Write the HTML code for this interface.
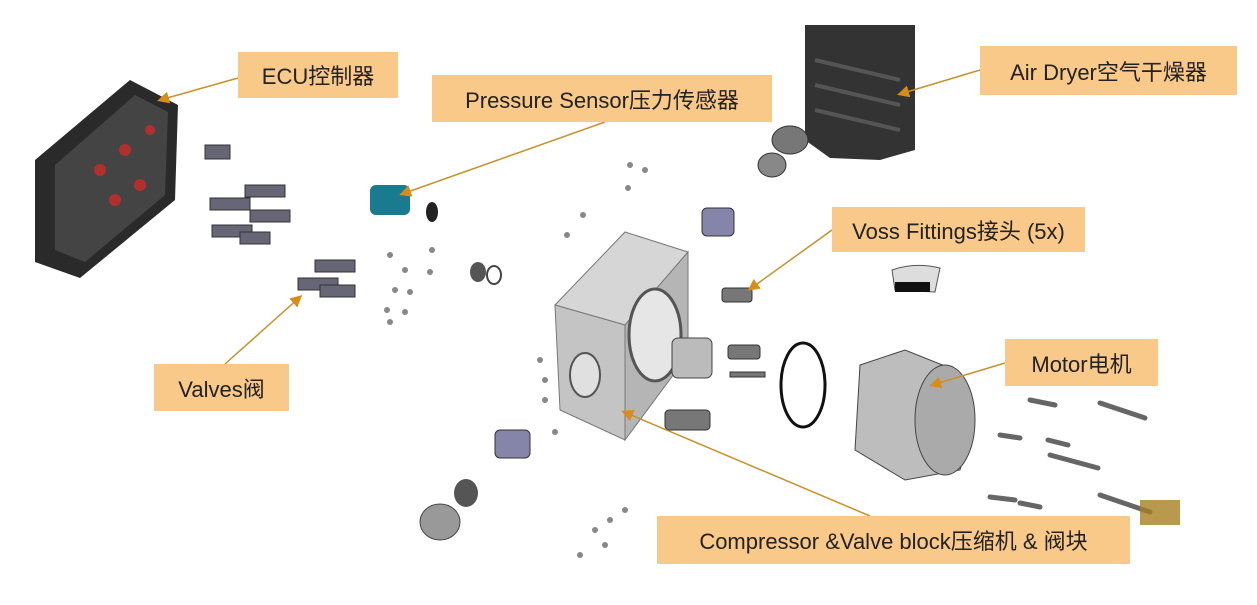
<!DOCTYPE html>
<html><head><meta charset="utf-8"><style>
html,body{margin:0;padding:0;background:#fff;}
body{width:1257px;height:605px;position:relative;overflow:hidden;font-family:"Liberation Sans","Noto Sans CJK SC",sans-serif;}
.lb{position:absolute;background:#F9C98A;color:#222;font-size:22px;display:flex;align-items:center;justify-content:center;white-space:nowrap;}
svg{position:absolute;left:0;top:0;}
</style></head><body>
<svg width="1257" height="605" viewBox="0 0 1257 605">
<defs><marker id="a" markerWidth="8" markerHeight="8" refX="6" refY="4" orient="auto"><path d="M0,0 L8,4 L0,8 z" fill="#D98C1C"/></marker></defs>
<!-- ECU -->
<polygon points="35,160 130,80 178,105 175,200 80,278 35,262" fill="#2a2a2a"/>
<polygon points="55,165 135,95 168,112 165,195 85,262 55,250" fill="#444"/>
<g fill="#b03030"><circle cx="100" cy="170" r="6"/><circle cx="125" cy="150" r="6"/><circle cx="140" cy="185" r="6"/><circle cx="115" cy="200" r="6"/><circle cx="150" cy="130" r="5"/></g>
<!-- valves -->
<g fill="#667" stroke="#333"><rect x="205" y="145" width="25" height="14"/><rect x="245" y="185" width="40" height="12"/><rect x="210" y="198" width="40" height="12"/><rect x="250" y="210" width="40" height="12"/><rect x="212" y="225" width="40" height="12"/><rect x="240" y="232" width="30" height="12"/><rect x="315" y="260" width="40" height="12"/><rect x="298" y="278" width="40" height="12"/><rect x="320" y="285" width="35" height="12"/></g>
<!-- pressure sensor -->
<rect x="370" y="185" width="40" height="30" rx="6" fill="#1a7a90"/>
<ellipse cx="432" cy="212" rx="6" ry="10" fill="#222"/>
<g fill="#888"><circle cx="390" cy="255" r="3"/><circle cx="405" cy="270" r="3"/><circle cx="432" cy="250" r="3"/><circle cx="430" cy="272" r="3"/><circle cx="395" cy="290" r="3"/><circle cx="410" cy="292" r="3"/><circle cx="387" cy="310" r="3"/><circle cx="405" cy="312" r="3"/><circle cx="390" cy="322" r="3"/><circle cx="630" cy="165" r="3"/><circle cx="645" cy="170" r="3"/><circle cx="628" cy="188" r="3"/><circle cx="583" cy="215" r="3"/><circle cx="567" cy="235" r="3"/><circle cx="540" cy="360" r="3"/><circle cx="545" cy="380" r="3"/><circle cx="545" cy="400" r="3"/><circle cx="555" cy="432" r="3"/><circle cx="625" cy="510" r="3"/><circle cx="610" cy="520" r="3"/><circle cx="595" cy="530" r="3"/><circle cx="580" cy="555" r="3"/><circle cx="605" cy="545" r="3"/></g>
<ellipse cx="478" cy="272" rx="8" ry="10" fill="#555"/><ellipse cx="494" cy="275" rx="7" ry="9" fill="none" stroke="#444" stroke-width="2"/>
<!-- block -->
<polygon points="555,305 625,232 688,252 625,325" fill="#d6d6d6" stroke="#777"/>
<polygon points="555,305 625,325 625,440 560,410" fill="#c4c4c4" stroke="#777"/>
<polygon points="625,325 688,252 688,355 625,440" fill="#b5b5b5" stroke="#777"/>
<ellipse cx="655" cy="335" rx="26" ry="46" fill="#e6e6e6" stroke="#555" stroke-width="3"/>
<ellipse cx="585" cy="375" rx="15" ry="22" fill="#e0e0e0" stroke="#555" stroke-width="2"/>
<rect x="672" y="338" width="40" height="40" rx="6" fill="#bbb" stroke="#444"/>
<rect x="702" y="208" width="32" height="28" rx="5" fill="#8585aa" stroke="#333"/>
<rect x="495" y="430" width="35" height="28" rx="5" fill="#8585aa" stroke="#333"/>
<ellipse cx="466" cy="493" rx="12" ry="14" fill="#555"/>
<ellipse cx="440" cy="522" rx="20" ry="18" fill="#999" stroke="#444"/>
<!-- fittings -->
<g fill="#777" stroke="#333"><rect x="722" y="288" width="30" height="14" rx="3"/><rect x="728" y="345" width="32" height="14" rx="3"/><rect x="730" y="372" width="35" height="5"/><rect x="665" y="410" width="45" height="20" rx="4"/></g>
<ellipse cx="803" cy="385" rx="22" ry="42" fill="none" stroke="#111" stroke-width="3"/>
<path d="M892,270 Q915,262 940,268 L935,292 L895,290 z" fill="#ddd" stroke="#555"/>
<rect x="895" y="282" width="35" height="10" fill="#111"/>
<!-- air dryer -->
<path d="M805,25 L915,25 L915,150 L880,160 L830,158 L805,140 z" fill="#333"/>
<g stroke="#555" stroke-width="4" fill="none"><path d="M815,60 L900,80"/><path d="M815,85 L900,105"/><path d="M815,110 L900,130"/></g>
<ellipse cx="790" cy="140" rx="18" ry="14" fill="#777" stroke="#333"/>
<ellipse cx="772" cy="165" rx="14" ry="12" fill="#888" stroke="#333"/>
<!-- motor -->
<path d="M860,365 L905,350 L955,370 L975,420 L960,470 L905,480 L855,450 z" fill="#bdbdbd" stroke="#444"/>
<ellipse cx="945" cy="420" rx="30" ry="55" fill="#aaa" stroke="#444"/>
<!-- screws -->
<g stroke="#666" stroke-width="5" stroke-linecap="round"><path d="M1030,400 L1055,405"/><path d="M1100,403 L1145,418"/><path d="M1000,435 L1020,438"/><path d="M1048,440 L1068,445"/><path d="M1050,455 L1098,468"/><path d="M990,497 L1015,500"/><path d="M1020,503 L1040,507"/><path d="M1100,495 L1150,512"/></g>
<rect x="1140" y="500" width="40" height="25" fill="#a88020" opacity=".8"/>
<!-- leaders -->
<g stroke="#C8902A" stroke-width="1.5" fill="none" marker-end="url(#a)">
<line x1="238" y1="78" x2="160" y2="100"/>
<line x1="605" y1="122" x2="402" y2="194"/>
<line x1="980" y1="70" x2="900" y2="94"/>
<line x1="832" y1="230" x2="750" y2="289"/>
<line x1="1005" y1="363" x2="932" y2="385"/>
<line x1="225" y1="364" x2="300" y2="297"/>
<line x1="870" y1="516" x2="624" y2="412"/>
</g>
</svg>
<div class="lb" style="left:238px;top:52px;width:160px;height:46px;">ECU控制器</div>
<div class="lb" style="left:432px;top:75px;width:340px;height:47px;">Pressure Sensor压力传感器</div>
<div class="lb" style="left:980px;top:46px;width:257px;height:49px;">Air Dryer空气干燥器</div>
<div class="lb" style="left:832px;top:207px;width:253px;height:45px;">Voss Fittings接头 (5x)</div>
<div class="lb" style="left:1005px;top:339px;width:153px;height:47px;">Motor电机</div>
<div class="lb" style="left:154px;top:364px;width:135px;height:47px;">Valves阀</div>
<div class="lb" style="left:657px;top:516px;width:473px;height:48px;">Compressor &amp;Valve block压缩机 &amp; 阀块</div>
</body></html>
